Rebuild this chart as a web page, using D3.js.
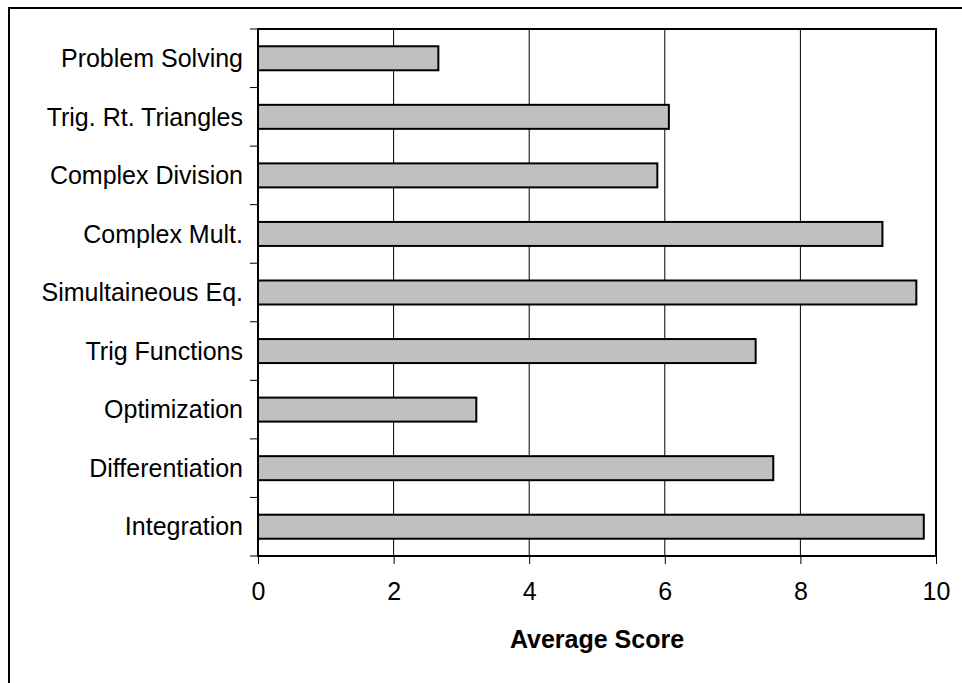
<!DOCTYPE html>
<html>
<head>
<meta charset="utf-8">
<title>Average Score by Topic</title>
<script src="https://d3js.org/d3.v7.min.js"></script>
<style>
  body { margin: 0; background: #fff; }
  svg { display: block; font-family: "Liberation Sans", Arial, sans-serif; }
</style>
</head>
<body>
<svg width="962" height="683"></svg>
<script>
// topics, top to bottom
const topics = [
  "Problem Solving", "Trig. Rt. Triangles", "Complex Division", "Complex Mult.",
  "Simultaineous Eq.", "Trig Functions", "Optimization", "Differentiation", "Integration"
];
const scores = [2.66, 6.06, 5.89, 9.21, 9.71, 7.34, 3.22, 7.6, 9.82];
const xTicks = [0, 2, 4, 6, 8, 10];
const xTitle = "Average Score";

const data = topics.map((t, i) => ({ topic: t, value: scores[i] }));

const svg = d3.select("svg");
const margin = { top: 29, right: 26, bottom: 127, left: 258 };
const width = 962 - margin.left - margin.right,
      height = 683 - margin.top - margin.bottom;

// outer chart border (runs off right/bottom edges)
svg.append("rect")
  .attr("x", 9).attr("y", 8)
  .attr("width", 980).attr("height", 700)
  .attr("fill", "none").attr("stroke", "#000").attr("stroke-width", 2);

const g = svg.append("g").attr("transform", `translate(${margin.left},${margin.top})`);

const x = d3.scaleLinear().domain([0, 10]).range([0, width]);
const y = d3.scaleBand().domain(topics).range([0, height]).paddingInner(0.59).paddingOuter(0.295);
const yb = d3.scaleBand().domain(topics).range([0, height]);

// vertical gridlines
g.append("g").selectAll("line")
  .data(xTicks.slice(1))
  .join("line")
  .attr("x1", d => x(d)).attr("x2", d => x(d))
  .attr("y1", 0).attr("y2", height)
  .attr("stroke", "#000").attr("stroke-width", 1);

// bars
g.append("g").selectAll("rect")
  .data(data)
  .join("rect")
  .attr("x", x(0))
  .attr("y", d => y(d.topic))
  .attr("width", d => x(d.value))
  .attr("height", y.bandwidth())
  .attr("fill", "#c0c0c0")
  .attr("stroke", "#000")
  .attr("stroke-width", 2);

// plot frame
g.append("rect")
  .attr("x", 0).attr("y", 0)
  .attr("width", width).attr("height", height)
  .attr("fill", "none").attr("stroke", "#000").attr("stroke-width", 2);

// y axis: ticks at band boundaries
const yTickPos = topics.map(t => yb(t)).concat([height]);
g.append("g").selectAll("line")
  .data(yTickPos)
  .join("line")
  .attr("x1", -8).attr("x2", 0)
  .attr("y1", d => d).attr("y2", d => d)
  .attr("stroke", "#000").attr("stroke-width", 1);

g.append("g").selectAll("text")
  .data(topics)
  .join("text")
  .attr("x", -15)
  .attr("y", d => yb(d) + yb.bandwidth() / 2)
  .attr("dy", "0.35em")
  .attr("text-anchor", "end")
  .attr("font-size", 25)
  .attr("fill", "#000")
  .text(d => d);

// x axis
const xAxis = d3.axisBottom(x).tickValues(xTicks).tickSize(8).tickPadding(18).tickFormat(d3.format("d"));
const xa = g.append("g").attr("transform", `translate(0,${height})`).call(xAxis);
xa.select(".domain").remove();
xa.selectAll(".tick line").attr("stroke", "#000");
xa.selectAll(".tick text").attr("font-size", 25).attr("fill", "#000")
  .attr("font-family", "'Liberation Sans', Arial, sans-serif");

g.append("text")
  .attr("x", width / 2)
  .attr("y", height + 92)
  .attr("text-anchor", "middle")
  .attr("font-size", 25)
  .attr("font-weight", "bold")
  .attr("fill", "#000")
  .text(xTitle);
</script>
</body>
</html>
